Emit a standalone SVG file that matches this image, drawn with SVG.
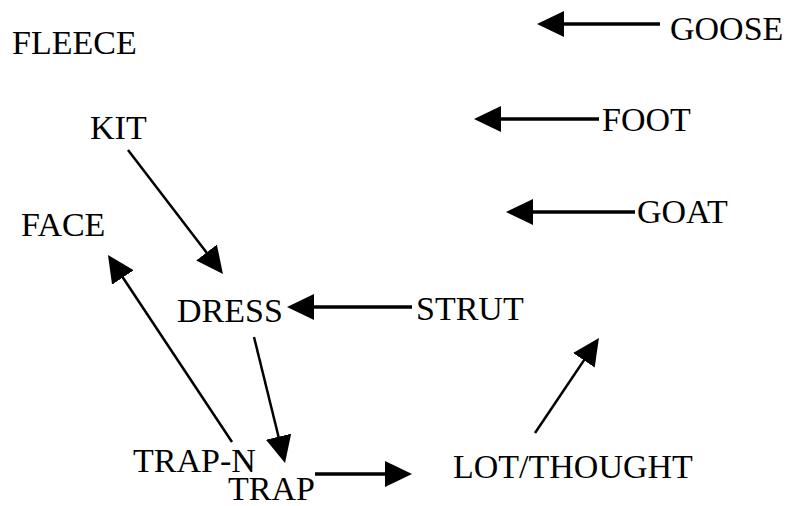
<svg xmlns="http://www.w3.org/2000/svg" width="788" height="506" viewBox="0 0 788 506">
  <style>
    .lbl { font-family: "Liberation Serif", "Times New Roman", serif; font-size: 34px; fill: #000; }
    .thick { stroke: #000; stroke-width: 3.5; fill: none; marker-end: url(#head); }
    .thin { stroke: #000; stroke-width: 2.5; fill: none; marker-end: url(#head); }
  </style>
  <defs>
    <marker id="head" markerUnits="userSpaceOnUse" markerWidth="28" markerHeight="27" refX="19" refY="13" orient="auto">
      <path d="M0,0 L27,13 L0,26 Z" fill="#000"/>
    </marker>
  </defs>
  <rect width="788" height="506" fill="#fff"/>

  <g id="connectors">
    <line class="thick" x1="660" y1="24" x2="545" y2="24"/>
    <line class="thick" x1="599" y1="119" x2="482" y2="119"/>
    <line class="thick" x1="635" y1="212" x2="514" y2="212"/>
    <line class="thick" x1="412" y1="307" x2="295" y2="307"/>
    <line class="thick" x1="315" y1="474" x2="404" y2="474"/>
    <line class="thin" x1="128" y1="150" x2="218.1" y2="267.6"/>
    <line class="thin" x1="254" y1="337" x2="283.1" y2="455.2"/>
    <line class="thin" x1="232" y1="442" x2="112.4" y2="261.7"/>
    <line class="thin" x1="535" y1="433" x2="594.5" y2="344.6"/>
  </g>

  <g id="fleece"><text class="lbl" x="12" y="54">FLEECE</text></g>
  <g id="kit"><text class="lbl" x="90" y="139">KIT</text></g>
  <g id="face"><text class="lbl" x="21" y="236">FACE</text></g>
  <g id="goose"><text class="lbl" x="670" y="40">GOOSE</text></g>
  <g id="foot"><text class="lbl" x="602" y="131">FOOT</text></g>
  <g id="goat"><text class="lbl" x="637" y="223">GOAT</text></g>
  <g id="dress"><text class="lbl" x="177" y="322">DRESS</text></g>
  <g id="strut"><text class="lbl" x="416" y="320">STRUT</text></g>
  <g id="trap-n"><text class="lbl" x="133" y="472">TRAP-N</text></g>
  <g id="trap"><text class="lbl" x="228" y="500">TRAP</text></g>
  <g id="lot-thought"><text class="lbl" x="453" y="478">LOT/THOUGHT</text></g>
</svg>
